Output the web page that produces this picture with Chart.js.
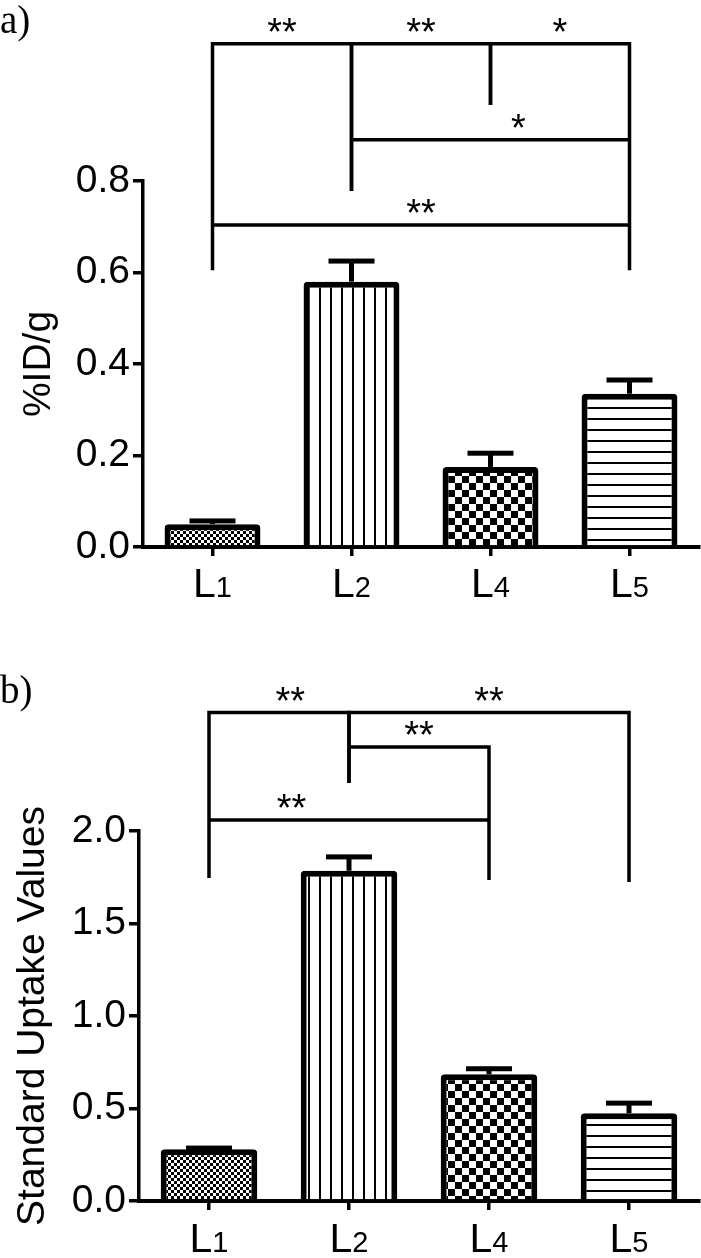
<!DOCTYPE html>
<html>
<head>
<meta charset="utf-8">
<script src="https://cdn.jsdelivr.net/npm/chart.js@4.4.1/dist/chart.umd.min.js"></script>
<style>
  body { margin:0; background:#fff; width:701px; height:1258px; position:relative; overflow:hidden; }
  .panel { position:absolute; left:0; width:701px; height:629px; }
  .tag { position:absolute; left:0; font-family:"Liberation Serif", "Times New Roman", serif; font-size:39px; line-height:1; color:#000; }
</style>
</head>
<body>
<div class="panel" style="top:0"><canvas id="chartA" width="701" height="629"></canvas></div>
<div class="panel" style="top:629px"><canvas id="chartB" width="701" height="629"></canvas></div>
<div class="tag" style="top:0px">a)</div>
<div class="tag" style="top:670px">b)</div>
<script>
const categories = ["L1", "L2", "L4", "L5"];

// panel a : %ID/g
const idgValues = [0.05, 0.58, 0.175, 0.335];
const idgErrors = [0.007, 0.045, 0.03, 0.03];
// panel b : standard uptake values
const suvValues = [0.28, 1.785, 0.685, 0.474];
const suvErrors = [0.006, 0.075, 0.03, 0.055];

// significance brackets (from / to = category index, at / legs = y value, mark = star position along bracket)
const idgBrackets = [
  { from: 0, to: 1, at: 1.10, legFrom: 0.605, legTo: 0.778, text: "**", mark: 0.5 },
  { from: 1, to: 2, at: 1.10, legFrom: 0.778, legTo: 0.966, text: "**", mark: 0.5 },
  { from: 2, to: 3, at: 1.10, legFrom: 0.966, legTo: 0.605, text: "*", mark: 0.5 },
  { from: 1, to: 3, at: 0.89, legFrom: 0.89, legTo: 0.89, text: "*", mark: 0.6 },
  { from: 0, to: 3, at: 0.704, legFrom: 0.704, legTo: 0.704, text: "**", mark: 0.5 }
];
const suvBrackets = [
  { from: 0, to: 1, at: 2.64, legFrom: 1.746, legTo: 2.259, text: "**", mark: 0.58 },
  { from: 1, to: 3, at: 2.64, legFrom: 2.259, legTo: 1.724, text: "**", mark: 0.5 },
  { from: 1, to: 2, at: 2.454, legFrom: 2.454, legTo: 1.735, text: "**", mark: 0.5 },
  { from: 0, to: 2, at: 2.059, legFrom: 2.059, legTo: 2.059, text: "**", mark: 0.295 }
];

const FONT = '"Liberation Sans", Arial, sans-serif';
Chart.defaults.font.family = FONT;
Chart.defaults.color = "#000";

// hatch tiles for the bars
function makeTile(w, h, draw) {
  const c = document.createElement("canvas");
  c.width = w; c.height = h;
  const g = c.getContext("2d");
  g.fillStyle = "#fff";
  g.fillRect(0, 0, w, h);
  g.fillStyle = "#000";
  draw(g);
  return c;
}
const tiles = [
  makeTile(6, 6, g => { g.fillRect(0, 0, 3, 3); g.fillRect(3, 3, 3, 3); }),
  makeTile(11, 4, g => g.fillRect(0, 0, 2, 4)),
  makeTile(14, 14, g => { g.fillRect(0, 0, 7, 7); g.fillRect(7, 7, 7, 7); }),
  makeTile(4, 11, g => g.fillRect(0, 0, 4, 2))
];
function fills(canvas) {
  const ctx = canvas.getContext("2d");
  return tiles.map(t => ctx.createPattern(t, "repeat"));
}

const errorBars = {
  id: "errorBars",
  afterDatasetsDraw(chart, args, opts) {
    const { ctx, scales: { y } } = chart;
    const vals = chart.data.datasets[0].data;
    ctx.save();
    ctx.fillStyle = "#000";
    chart.getDatasetMeta(0).data.forEach((bar, i) => {
      const top = y.getPixelForValue(vals[i]);
      const hi = y.getPixelForValue(vals[i] + opts.errors[i]);
      ctx.fillRect(bar.x - 2.5, hi, 5, top - hi);
      ctx.fillRect(bar.x - 23, hi - 2.5, 46, 5);
    });
    ctx.restore();
  }
};

const brackets = {
  id: "brackets",
  afterDraw(chart, args, opts) {
    const { ctx, scales: { x, y } } = chart;
    ctx.save();
    ctx.strokeStyle = "#000";
    ctx.fillStyle = "#000";
    ctx.lineWidth = 3.5;
    ctx.font = "38px " + FONT;
    ctx.textAlign = "center";
    ctx.textBaseline = "alphabetic";
    opts.items.forEach(b => {
      const x1 = x.getPixelForValue(b.from);
      const x2 = x.getPixelForValue(b.to);
      const yy = y.getPixelForValue(b.at);
      ctx.beginPath();
      ctx.moveTo(x1, y.getPixelForValue(b.legFrom));
      ctx.lineTo(x1, yy);
      ctx.lineTo(x2, yy);
      ctx.lineTo(x2, y.getPixelForValue(b.legTo));
      ctx.stroke();
      const tx = x.getPixelForValue(b.from + (b.to - b.from) * b.mark);
      ctx.fillText(b.text, tx, yy + 1);
    });
    ctx.restore();
  }
};

// x labels with a subscript number (L1 -> L + small 1)
const subLabels = {
  id: "subLabels",
  afterDraw(chart, args, opts) {
    const { ctx, scales: { x } } = chart;
    ctx.save();
    ctx.fillStyle = "#000";
    ctx.textAlign = "left";
    ctx.textBaseline = "alphabetic";
    chart.data.labels.forEach((lab, i) => {
      const big = "41px " + FONT, small = "29px " + FONT;
      ctx.font = big;
      const w1 = ctx.measureText(lab[0]).width;
      ctx.font = small;
      const w2 = ctx.measureText(lab.slice(1)).width;
      const left = x.getPixelForTick(i) - (w1 + w2) / 2;
      const base = x.top + opts.gap;
      ctx.font = big;
      ctx.fillText(lab[0], left, base);
      ctx.font = small;
      ctx.fillText(lab.slice(1), left + w1, base);
    });
    ctx.restore();
  }
};

function makeChart(id, values, errors, items, yMax, step, title, o) {
  const canvas = document.getElementById(id);
  return new Chart(canvas, {
    type: "bar",
    data: {
      labels: categories,
      datasets: [{
        data: values,
        backgroundColor: fills(canvas),
        borderColor: "#000",
        borderWidth: 6,
        borderRadius: 4,
        borderSkipped: "start",
        barPercentage: 0.69,
        categoryPercentage: 1
      }]
    },
    options: {
      responsive: false,
      animation: false,
      layout: { padding: { top: o.top, right: 2, left: 0, bottom: 0 } },
      plugins: {
        legend: { display: false },
        tooltip: { enabled: false },
        errorBars: { errors: errors },
        brackets: { items: items },
        subLabels: { gap: o.gap }
      },
      scales: {
        x: {
          grid: { offset: false, drawOnChartArea: false, color: "#000", lineWidth: 3.5, tickLength: 9 },
          border: { color: "#000", width: 4 },
          ticks: { display: false },
          afterFit(s) { s.height = o.xh; }
        },
        y: {
          min: 0,
          max: yMax,
          ticks: { stepSize: step, callback: v => v.toFixed(1), font: { size: 39 }, color: "#000", padding: 3 },
          grid: { drawOnChartArea: false, color: "#000", lineWidth: 3.5, tickLength: 10 },
          border: { color: "#000", width: 3.5 },
          title: { display: true, text: title, font: { size: 39 }, color: "#000", padding: { top: o.tp, bottom: 0 } },
          afterFit(s) { s.width = o.yw; }
        }
      }
    },
    plugins: [errorBars, brackets, subLabels]
  });
}

const chartA = makeChart("chartA", idgValues, idgErrors, idgBrackets, 0.8, 0.2, "%ID/g",
  { top: 181, xh: 82, yw: 143, tp: 16, gap: 50 });
const chartB = makeChart("chartB", suvValues, suvErrors, suvBrackets, 2.0, 0.5, "Standard Uptake Values",
  { top: 202, xh: 57, yw: 139, tp: 10, gap: 51 });
</script>
</body>
</html>
